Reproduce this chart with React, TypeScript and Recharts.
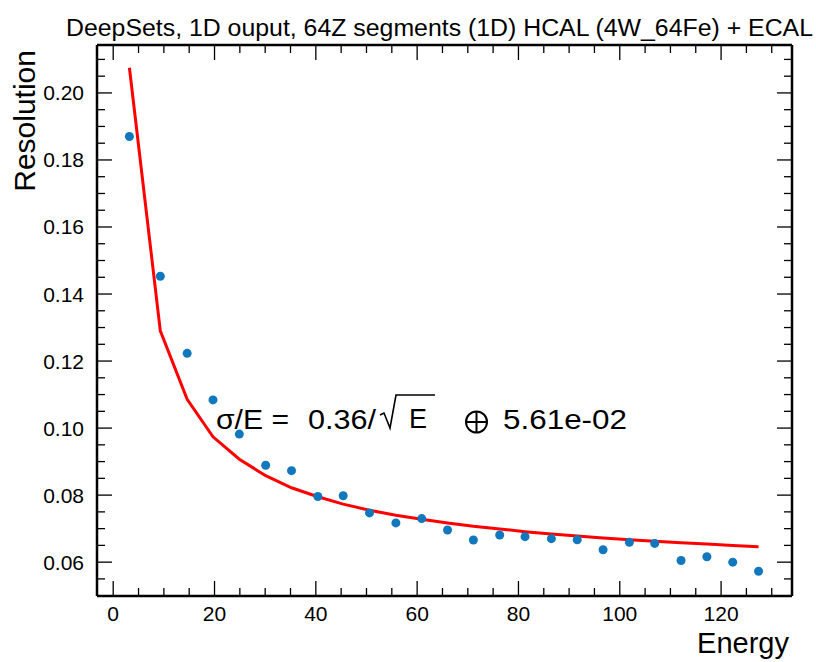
import React from "react";
import { ComposedChart, Line, Scatter, XAxis, YAxis } from "recharts";

// energy points (GeV)
const energy = [
  3.2, 9.3, 14.6, 19.7, 24.9, 30.1, 35.2, 40.4, 45.4, 50.6, 55.8, 60.9, 66.0,
  71.1, 76.3, 81.3, 86.5, 91.6, 96.7, 101.9, 106.9, 112.1, 117.2, 122.3, 127.4,
];
const resolution = [
  0.187, 0.1453, 0.1223, 0.1084, 0.0982, 0.0889, 0.0873, 0.0796, 0.0798, 0.0747,
  0.0717, 0.073, 0.0696, 0.0666, 0.0681, 0.0676, 0.067, 0.0667, 0.0637, 0.0659,
  0.0656, 0.0605, 0.0616, 0.06, 0.0573,
];
const fitCurve = [
  0.2075, 0.129, 0.1086, 0.0974, 0.0907, 0.0858, 0.0822, 0.0795, 0.0773, 0.0755,
  0.074, 0.0728, 0.0717, 0.0707, 0.0699, 0.0691, 0.0684, 0.0678, 0.0672, 0.0667,
  0.0662, 0.0658, 0.0654, 0.065, 0.0646,
];

const xTicks = [
  0, 5, 10, 15, 20, 25, 30, 35, 40, 45, 50, 55, 60, 65, 70, 75, 80, 85, 90, 95,
  100, 105, 110, 115, 120, 125, 130,
];
const yTicks = [
  0.05, 0.055, 0.06, 0.065, 0.07, 0.075, 0.08, 0.085, 0.09, 0.095, 0.1, 0.105,
  0.11, 0.115, 0.12, 0.125, 0.13, 0.135, 0.14, 0.145, 0.15, 0.155, 0.16, 0.165,
  0.17, 0.175, 0.18, 0.185, 0.19, 0.195, 0.2, 0.205, 0.21,
];

const data = energy.map((e, i) => ({ energy: e, resolution: resolution[i], fit: fitCurve[i] }));

const W = 816;
const H = 662;
const LEFT = 97;
const RIGHT = 792;
const TOP = 45;
const BOTTOM = 596;
const FONT = "Liberation Sans, Arial, Helvetica, sans-serif";

const isMajorX = (v: number) => Math.round(v) % 20 === 0;
const isMajorY = (v: number) => Math.round(v * 1000) % 20 === 0;

// ROOT style: ticks point inwards, labels only on major ticks
function BottomTick({ x, payload }: any) {
  const major = isMajorX(payload.value);
  return (
    <g>
      <line x1={x} x2={x} y1={BOTTOM} y2={BOTTOM - (major ? 15 : 8)} stroke="#000" strokeWidth={1.3} />
      {major && (
        <text x={x} y={BOTTOM + 25} textAnchor="middle" fontSize={21} fontFamily={FONT} fill="#000">
          {payload.value}
        </text>
      )}
    </g>
  );
}

function TopTick({ x, payload }: any) {
  const major = isMajorX(payload.value);
  return <line x1={x} x2={x} y1={TOP} y2={TOP + (major ? 15 : 8)} stroke="#000" strokeWidth={1.3} />;
}

function LeftTick({ y, payload }: any) {
  const major = isMajorY(payload.value);
  return (
    <g>
      <line x1={LEFT} x2={LEFT + (major ? 15 : 8)} y1={y} y2={y} stroke="#000" strokeWidth={1.3} />
      {major && (
        <text x={84} y={y + 7.5} textAnchor="end" fontSize={21} fontFamily={FONT} fill="#000">
          {payload.value.toFixed(2)}
        </text>
      )}
    </g>
  );
}

function RightTick({ y, payload }: any) {
  const major = isMajorY(payload.value);
  return <line x1={RIGHT} x2={RIGHT - (major ? 15 : 8)} y1={y} y2={y} stroke="#000" strokeWidth={1.3} />;
}

export default function App() {
  const axisLine = { stroke: "#000", strokeWidth: 2.5 };
  return (
    <div style={{ position: "absolute", left: 0, top: 0, width: W, height: H, background: "#fff" }}>
      <ComposedChart
        width={W}
        height={H}
        data={data}
        margin={{ top: TOP - 1, right: W - RIGHT - 1, bottom: H - BOTTOM - 1, left: LEFT - 1 }}
      >
        <XAxis
          xAxisId="b"
          type="number"
          dataKey="energy"
          domain={[-3.2, 134]}
          allowDataOverflow
          ticks={xTicks}
          interval={0}
          height={1}
          axisLine={axisLine}
          tickLine={false}
          tick={<BottomTick />}
        />
        <XAxis
          xAxisId="t"
          orientation="top"
          type="number"
          dataKey="energy"
          domain={[-3.2, 134]}
          allowDataOverflow
          ticks={xTicks}
          interval={0}
          height={1}
          axisLine={axisLine}
          tickLine={false}
          tick={<TopTick />}
        />
        <YAxis
          yAxisId="l"
          type="number"
          domain={[0.0499, 0.2143]}
          allowDataOverflow
          ticks={yTicks}
          interval={0}
          width={1}
          axisLine={axisLine}
          tickLine={false}
          tick={<LeftTick />}
        />
        <YAxis
          yAxisId="r"
          orientation="right"
          type="number"
          domain={[0.0499, 0.2143]}
          allowDataOverflow
          ticks={yTicks}
          interval={0}
          width={1}
          axisLine={axisLine}
          tickLine={false}
          tick={<RightTick />}
        />
        <Line
          xAxisId="b"
          yAxisId="l"
          type="linear"
          dataKey="fit"
          stroke="#ff0000"
          strokeWidth={3}
          dot={false}
          isAnimationActive={false}
        />
        <Scatter
          xAxisId="b"
          yAxisId="l"
          dataKey="resolution"
          fill="#1278bd"
          shape={(p: any) => <circle cx={p.cx} cy={p.cy} r={4.5} fill="#1278bd" />}
          isAnimationActive={false}
        />
      </ComposedChart>
      <svg
        width={W}
        height={H}
        style={{ position: "absolute", left: 0, top: 0, pointerEvents: "none" }}
        fontFamily={FONT}
      >
        <text x={66} y={36} fontSize={23} textLength={747} lengthAdjust="spacingAndGlyphs" fill="#000">
          DeepSets, 1D ouput, 64Z segments (1D) HCAL (4W_64Fe) + ECAL
        </text>
        <text x={35} y={50} fontSize={30} textAnchor="end" transform="rotate(-90 35 50)" fill="#000">
          Resolution
        </text>
        <text x={789} y={653} fontSize={29} textAnchor="end" fill="#000">
          Energy
        </text>
        <text x={216} y={429} fontSize={27} textLength={73} lengthAdjust="spacingAndGlyphs" fill="#000">σ/E =</text>
        <text x={308} y={429} fontSize={27} textLength={68} lengthAdjust="spacingAndGlyphs" fill="#000">0.36/</text>
        <polyline
          points="380,415 384,413 390,428 396,395 435,395"
          fill="none"
          stroke="#000"
          strokeWidth={1.6}
        />
        <text x={409} y={428} fontSize={27} fill="#000">E</text>
        <circle cx={476.5} cy={422} r={10.5} fill="none" stroke="#000" strokeWidth={2} />
        <line x1={466} x2={487} y1={422} y2={422} stroke="#000" strokeWidth={2} />
        <line x1={476.5} x2={476.5} y1={411.5} y2={432.5} stroke="#000" strokeWidth={2} />
        <text x={503} y={429} fontSize={27} textLength={124} lengthAdjust="spacingAndGlyphs" fill="#000">5.61e-02</text>
      </svg>
    </div>
  );
}
